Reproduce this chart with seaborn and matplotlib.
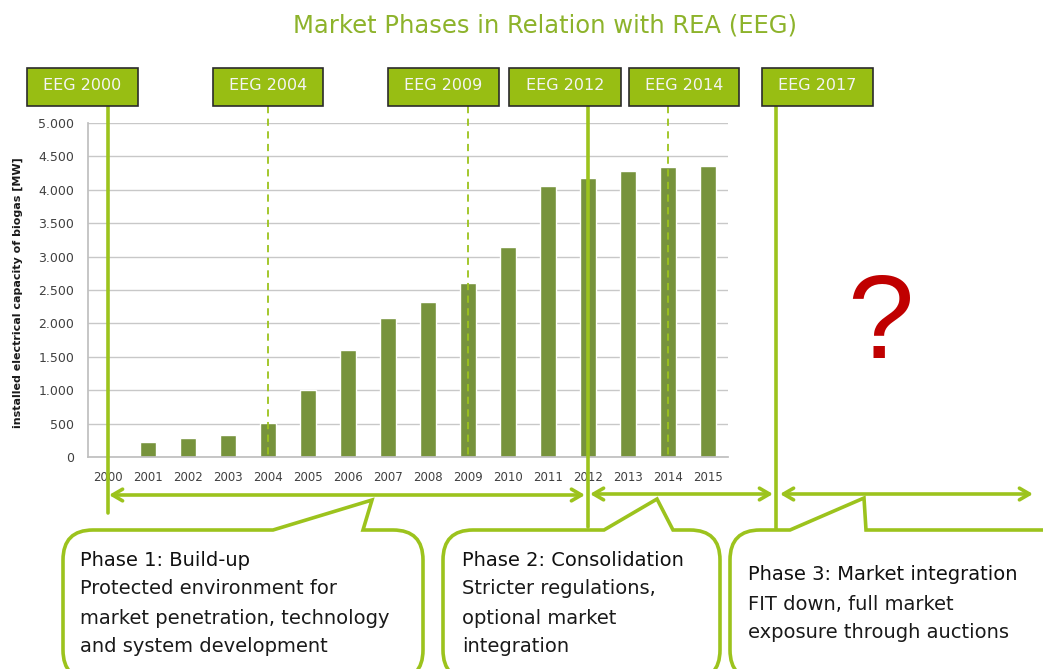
import matplotlib
matplotlib.use('Agg')
import matplotlib.pyplot as plt
import matplotlib.transforms as mtransforms
from matplotlib.path import Path
from matplotlib.patches import PathPatch, Rectangle
from matplotlib.ticker import FuncFormatter
import seaborn as sns

# installed electrical capacity of biogas plants [MW]
years = ['2000', '2001', '2002', '2003', '2004', '2005', '2006', '2007',
         '2008', '2009', '2010', '2011', '2012', '2013', '2014', '2015']
capacity_mw = [0, 225, 284, 330, 510, 1003, 1602, 2081,
               2315, 2605, 3140, 4050, 4175, 4280, 4345, 4352]

# EEG amendments (position on the year axis, 2017 lies past the last bar)
eeg_labels = ['EEG 2000', 'EEG 2004', 'EEG 2009', 'EEG 2012', 'EEG 2014', 'EEG 2017']
eeg_pos = [0, 4, 9, 12, 14, 16.7]
eeg_solid = [True, False, False, True, False, True]

phase_titles = ['Phase 1: Build-up', 'Phase 2: Consolidation', 'Phase 3: Market integration']
phase_lines = [['Protected environment for', 'market penetration, technology', 'and system development'],
               ['Stricter regulations,', 'optional market', 'integration'],
               ['FIT down, full market', 'exposure through auctions']]

BAR = '#77933C'
LIME = '#9CC31D'
BOX = '#98BE13'

sns.set_theme(style='white')
plt.rcParams['font.family'] = ['DejaVu Sans']

W, H = 1043, 669
fig = plt.figure(figsize=(W / 100, H / 100), dpi=100)

# bar chart area in pixel units
left, right, top, bottom = 88, 728, 123, 457
ax = fig.add_axes([left / W, 1 - bottom / H, (right - left) / W, (bottom - top) / H])
sns.barplot(x=years, y=capacity_mw, color=BAR, width=0.42, saturation=1, ax=ax, zorder=2)
ax.set_ylim(0, 5000)
ax.set_xlim(-0.5, 15.5)
ax.set_yticks(range(0, 5001, 500))
ax.yaxis.set_major_formatter(FuncFormatter(lambda v, p: f'{int(v):,}'.replace(',', '.')))
ax.grid(axis='y', color='#C8C8C8', lw=1, zorder=0)
ax.set_axisbelow(True)
for s in ['top', 'right']:
    ax.spines[s].set_visible(False)
for s in ['left', 'bottom']:
    ax.spines[s].set_color('#BFBFBF')
ax.tick_params(axis='y', length=4, color='#BFBFBF', labelsize=9, labelcolor='#404040', pad=6)
ax.tick_params(axis='x', length=0, labelsize=8.5, labelcolor='#404040', pad=10)
ax.set_xticks([i - 0.5 for i in range(17)], minor=True)
ax.tick_params(axis='x', which='minor', length=4, color='#BFBFBF')
ax.set_xlabel('')
ax.set_ylabel('')

# overlay in pixel coordinates for the infographic parts
over = fig.add_axes([0, 0, 1, 1])
over.set_xlim(0, W)
over.set_ylim(H, 0)
over.axis('off')

over.text(545, 25, 'Market Phases in Relation with REA (EEG)', ha='center', va='center',
          fontsize=17.5, color='#8DB32B')
over.text(18, 293, 'installed electrical capacity of biogas [MW]', rotation=90,
          ha='center', va='center', fontsize=8, fontweight='bold', color='#1a1a1a')

# EEG header boxes
box_x = [(27, 138), (213, 323), (388, 499), (509, 621), (629, 739), (762, 873)]
for (x0, x1), lab in zip(box_x, eeg_labels):
    over.add_patch(Rectangle((x0, 68), x1 - x0, 38, fc=BOX, ec='#2b2b2b', lw=1.2, zorder=5))
    over.text((x0 + x1) / 2, 86, lab, ha='center', va='center', fontsize=11.5,
              color='#F4F4F4', zorder=6)

# vertical markers: x from bar axis, y in pixels
blend = mtransforms.blended_transform_factory(ax.transData, over.transData)
line_bottom = [513, 457, 457, 527, 457, 529]
for xp, solid, yb in zip(eeg_pos, eeg_solid, line_bottom):
    if solid:
        over.plot([xp, xp], [106, yb], color=LIME, lw=2.6, transform=blend, zorder=4)
    else:
        over.plot([xp, xp], [106, yb], color=LIME, lw=1.3, ls=(0, (4, 3)),
                  transform=blend, zorder=4)

# phase arrows
arrow_spans = [(109, 585, 495), (590, 773, 494), (780, 1033, 494)]
for xa, xb, ya in arrow_spans:
    over.annotate('', xy=(xb, ya), xytext=(xa, ya),
                  arrowprops=dict(arrowstyle='<->,head_length=0.6,head_width=0.35',
                                  color=LIME, lw=2.6, shrinkA=0, shrinkB=0))


def callout(x0, x1, y0, y1, r, b0, apex, b1):
    verts = [(x0 + r, y0), (b0, y0), apex, (b1, y0), (x1 - r, y0),
             (x1, y0), (x1, y0 + r), (x1, y1 - r),
             (x1, y1), (x1 - r, y1), (x0 + r, y1),
             (x0, y1), (x0, y1 - r), (x0, y0 + r),
             (x0, y0), (x0 + r, y0), (x0 + r, y0)]
    codes = [Path.MOVETO, Path.LINETO, Path.LINETO, Path.LINETO, Path.LINETO,
             Path.CURVE3, Path.CURVE3, Path.LINETO,
             Path.CURVE3, Path.CURVE3, Path.LINETO,
             Path.CURVE3, Path.CURVE3, Path.LINETO,
             Path.CURVE3, Path.CURVE3, Path.CLOSEPOLY]
    over.add_patch(PathPatch(Path(verts, codes), fc='white', ec=LIME, lw=2.6, zorder=3))


callout(63, 423, 530, 680, 30, 273, (372, 500), 363)
callout(443, 720, 530, 680, 30, 604, (657, 499), 673)
callout(730, 1075, 530, 680, 30, 790, (864, 498), 866)

text_pos = [(80, 560), (462, 560), (748, 575)]
for (tx, ty), ttl, lines in zip(text_pos, phase_titles, phase_lines):
    over.text(tx, ty, ttl, ha='left', va='center', fontsize=14, color='#111111', zorder=6)
    for k, ln in enumerate(lines):
        over.text(tx, ty + 29 * (k + 1), ln, ha='left', va='center', fontsize=14,
                  color='#1a1a1a', zorder=6)

over.text(880, 328, '?', ha='center', va='center', fontsize=86, color='#C00000',
          family='Liberation Sans')

fig.savefig('out.png', dpi=100)
